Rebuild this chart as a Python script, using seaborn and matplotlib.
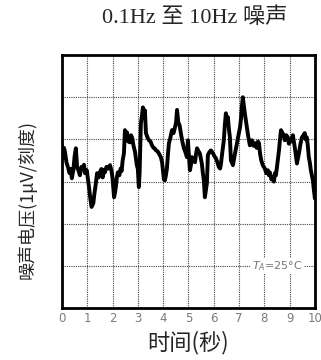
import numpy as np
import pandas as pd
import seaborn as sns
import matplotlib
matplotlib.use("Agg")
import matplotlib.pyplot as plt

# Datos: tiempo (s) y tension de ruido (divisiones de 1 uV)
time_s = [0.00, 0.04, 0.08, 0.12, 0.18, 0.24, 0.30, 0.35, 0.39, 0.45, 0.50, 0.55, 0.60, 0.66, 0.71,
          0.77, 0.82, 0.87, 0.91, 0.98, 1.03, 1.07, 1.12, 1.17, 1.24, 1.28, 1.32, 1.39, 1.45, 1.50,
          1.56, 1.61, 1.66, 1.70, 1.76, 1.83, 1.90, 1.96, 2.00, 2.06, 2.10, 2.13, 2.17, 2.21, 2.27,
          2.32, 2.36, 2.40, 2.45, 2.49, 2.53, 2.57, 2.62, 2.66, 2.69, 2.73, 2.77, 2.83, 2.89, 2.96,
          3.00, 3.04, 3.07, 3.12, 3.16, 3.20, 3.24, 3.28, 3.32, 3.38, 3.44, 3.50, 3.56, 3.62, 3.68,
          3.72, 3.78, 3.83, 3.91, 3.96, 3.99, 4.03, 4.07, 4.11, 4.15, 4.19, 4.23, 4.29, 4.35, 4.41,
          4.47, 4.51, 4.55, 4.60, 4.65, 4.70, 4.76, 4.82, 4.88, 4.94, 4.98, 5.02, 5.06, 5.10, 5.14,
          5.20, 5.26, 5.30, 5.34, 5.40, 5.45, 5.49, 5.53, 5.57, 5.61, 5.65, 5.69, 5.73, 5.77, 5.83,
          5.89, 5.97, 6.03, 6.09, 6.15, 6.20, 6.25, 6.28, 6.34, 6.40, 6.44, 6.48, 6.52, 6.56, 6.60,
          6.64, 6.68, 6.72, 6.76, 6.82, 6.88, 6.96, 7.04, 7.08, 7.11, 7.15, 7.19, 7.23, 7.27, 7.31,
          7.37, 7.43, 7.47, 7.51, 7.57, 7.63, 7.70, 7.75, 7.79, 7.83, 7.88, 7.94, 7.98, 8.02, 8.08,
          8.14, 8.18, 8.22, 8.28, 8.34, 8.38, 8.42, 8.46, 8.50, 8.54, 8.58, 8.62, 8.66, 8.72, 8.77,
          8.81, 8.87, 8.93, 8.97, 9.01, 9.07, 9.13, 9.17, 9.21, 9.25, 9.29, 9.33, 9.37, 9.43, 9.49,
          9.55, 9.60, 9.64, 9.68, 9.72, 9.76, 9.80, 9.84, 9.88, 9.92, 9.96, 10.00]
noise_div = [3.85, 3.55, 3.80, 3.70, 3.45, 3.34, 3.20, 3.30, 3.08, 3.27, 3.60, 3.79, 3.34, 3.25, 3.15,
             3.35, 3.31, 3.40, 3.20, 3.27, 3.05, 2.87, 2.60, 2.40, 2.49, 2.70, 2.87, 3.20, 3.10, 3.22,
             3.30, 3.10, 3.28, 3.22, 3.35, 3.31, 3.39, 3.25, 3.08, 2.63, 2.75, 2.87, 3.10, 3.22, 3.15,
             3.31, 3.25, 3.50, 3.67, 4.22, 4.10, 4.17, 3.95, 4.00, 3.93, 4.10, 4.05, 3.85, 3.70, 3.39,
             3.30, 2.87, 3.20, 4.38, 4.55, 4.76, 4.60, 4.69, 4.15, 4.05, 3.98, 3.95, 3.86, 3.80, 3.78,
             3.74, 3.72, 3.67, 3.58, 3.45, 3.27, 3.05, 3.03, 3.15, 3.31, 3.65, 3.91, 4.05, 4.22, 4.15,
             4.29, 4.40, 4.70, 4.40, 4.34, 4.15, 3.95, 3.79, 3.70, 3.58, 3.98, 3.60, 3.27, 3.40, 3.58,
             3.50, 3.46, 3.65, 3.79, 3.72, 3.67, 3.55, 3.43, 3.20, 3.03, 2.63, 2.80, 2.96, 3.63, 3.70,
             3.74, 3.67, 3.60, 3.55, 3.45, 3.35, 3.31, 3.39, 3.70, 3.98, 4.35, 4.62, 4.45, 4.53, 4.25,
             4.05, 3.50, 3.45, 3.39, 3.60, 3.79, 4.05, 4.29, 4.50, 4.76, 5.00, 4.80, 4.62, 4.45, 4.29,
             4.05, 3.86, 3.95, 3.98, 3.85, 3.91, 3.80, 3.95, 3.91, 3.67, 3.50, 3.39, 3.35, 3.31, 3.20,
             3.27, 3.15, 3.22, 3.05, 3.10, 3.00, 3.20, 3.15, 3.34, 3.55, 3.74, 4.00, 4.22, 4.15, 4.10,
             3.98, 4.10, 4.05, 3.90, 3.93, 4.00, 4.10, 3.95, 3.79, 3.60, 3.43, 3.55, 3.67, 3.90, 4.05,
             4.10, 4.15, 4.00, 4.05, 3.85, 3.58, 3.45, 3.27, 3.15, 3.03, 2.80, 2.60]
x_ticks = list(range(0, 11))
y_grid = list(range(0, 7))

df = pd.DataFrame({"t": time_s, "v": noise_div})

sns.set_theme(style="white")
plt.rcParams['font.family'] = ['Noto Sans CJK SC', 'DejaVu Sans']

fig = plt.figure(figsize=(3.21, 3.6), dpi=100)
ax = fig.add_axes([0.193, 0.144, 0.788, 0.703])

sns.lineplot(data=df, x="t", y="v", ax=ax, color="black", linewidth=2.8,
             estimator=None, sort=False, zorder=3)

ax.set_xlim(0, 10)
ax.set_ylim(0, 6)
ax.set_xticks(x_ticks)
ax.set_yticks(y_grid)
ax.set_yticklabels([])
ax.set_xticklabels([str(t) for t in x_ticks], fontsize=8.5, color="#7a7a7a",
                   family=['DejaVu Sans'])
ax.tick_params(axis="both", length=0)
ax.tick_params(axis="x", pad=3)

# rejilla punteada como la del osciloscopio
ax.grid(True, color="#444444", linewidth=0.8, linestyle=(0, (1, 1)), zorder=1)

for s in ax.spines.values():
    s.set_color("black")
    s.set_linewidth(2.0)

ax.text(7.5, 1.0, "$T_A$=25°C", fontsize=8, color="#777777", ha="left", va="center",
        family=['DejaVu Sans'], zorder=2,
        bbox=dict(facecolor="white", edgecolor="none", pad=1))

ax.set_xlabel("时间(秒)", fontsize=16, labelpad=4)
ax.set_ylabel("噪声电压(1μV/刻度)", fontsize=13)
ax.yaxis.set_label_coords(-0.10, 0.43)

fig.text(0.606, 0.95, "0.1Hz 至 10Hz 噪声", fontsize=16, ha="center", va="center",
         family=['Liberation Serif', 'Noto Sans CJK SC'])

fig.savefig("out.png", dpi=100)
